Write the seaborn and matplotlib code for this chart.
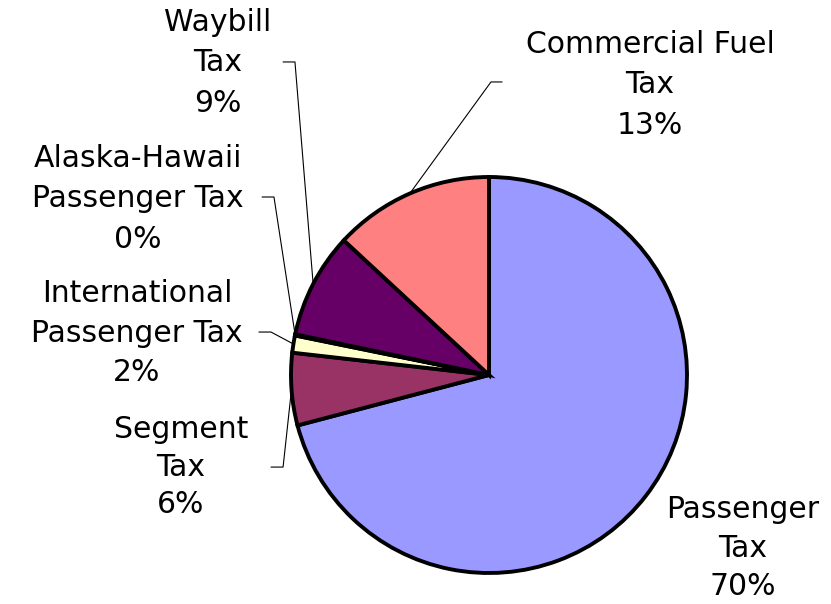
import numpy as np
import seaborn as sns
import matplotlib
matplotlib.use("Agg")
import matplotlib.pyplot as plt

# shares, clockwise from 12 o'clock
taxes = ["Passenger\nTax", "Segment\nTax", "International\nPassenger Tax",
         "Alaska-Hawaii\nPassenger Tax", "Waybill\nTax", "Commercial Fuel\nTax"]
shares = [70.9, 5.9, 1.4, 0.1, 8.6, 13.1]
pct_labels = ["70%", "6%", "2%", "0%", "9%", "13%"]
colors = ["#9999FF", "#993366", "#FFFFCC", "#CCFFFF", "#660066", "#FF8080"]

sns.set_theme(style="white")
plt.rcParams['font.family'] = ['DejaVu Sans']

fig = plt.figure(figsize=(8.31, 6.04), dpi=100)
ax = fig.add_axes([0, 0, 1, 1])

wedges, _ = ax.pie(shares, colors=colors, startangle=90, counterclock=False,
                   radius=1, wedgeprops=dict(edgecolor="black", linewidth=2.8))

# label block centres and leader elbows (layout only)
label_pos = [(1.283, -0.874), (-1.556, -0.465), (-1.778, 0.212),
             (-1.773, 0.889), (-1.369, 1.576), (0.813, 1.465)]
spacing = [1.4, 1.38, 1.45, 1.5, 1.5, 1.5]
leaders = [None,
           [(-1.101, -0.465), (-1.040, -0.465)],
           [(-1.162, 0.217), (-1.101, 0.217)],
           [(-1.146, 0.899), (-1.086, 0.899)],
           [(-1.040, 1.581), (-0.980, 1.581)],
           [(0.066, 1.480), (0.010, 1.480)]]

for i, w in enumerate(wedges):
    ax.text(*label_pos[i], taxes[i] + "\n" + pct_labels[i], ha="center", va="center",
            fontsize=21.5, color="black", linespacing=spacing[i])
    if leaders[i] is not None:
        mid = np.deg2rad((w.theta1 + w.theta2) / 2)
        edge = (np.cos(mid) * w.r, np.sin(mid) * w.r)
        pts = leaders[i] + [edge]
        ax.plot([p[0] for p in pts], [p[1] for p in pts], color="black",
                lw=0.8, clip_on=False)

ax.set_xlim(-489 / 198, (831 - 489) / 198)
ax.set_ylim((375 - 604) / 198, 375 / 198)
ax.set_aspect("auto")
ax.axis("off")

fig.savefig("out.png", dpi=100, facecolor="white")
